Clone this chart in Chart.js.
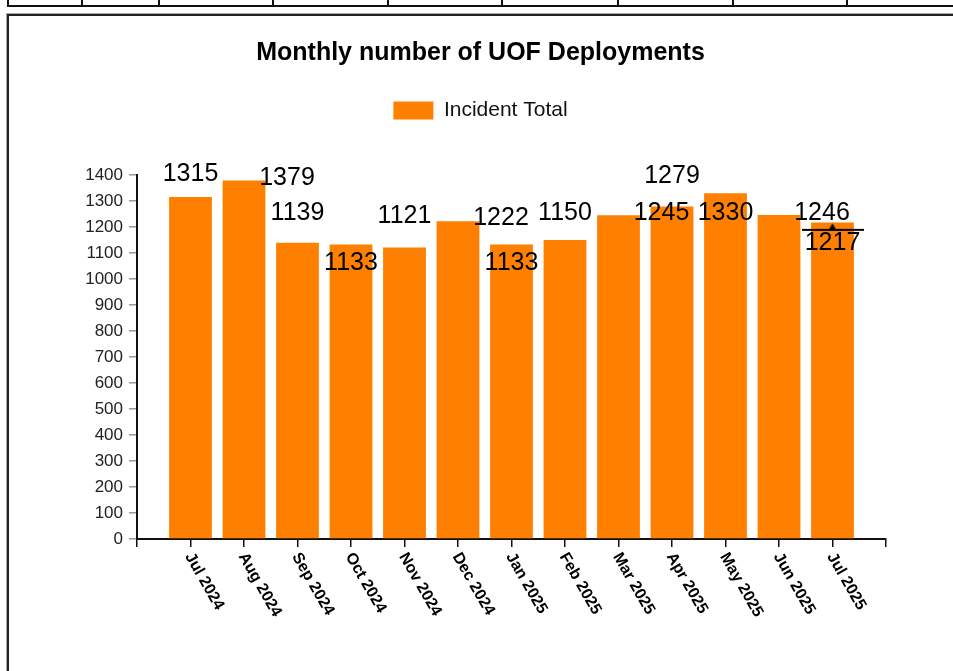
<!DOCTYPE html>
<html>
<head>
<meta charset="utf-8">
<title>Monthly number of UOF Deployments</title>
<script src="https://cdn.jsdelivr.net/npm/chart.js@4.4.1/dist/chart.umd.min.js"></script>
<style>
    html, body { margin: 0; padding: 0; background: #fff; overflow: hidden; }
    body { width: 953px; height: 671px; position: relative; }
    .strip { position: absolute; left: 7px; top: 0; width: 960px; height: 5px; border-left: 2px solid #111; border-bottom: 2px solid #111; }
    .strip span { position: absolute; top: 0; width: 2px; height: 5px; background: #111; }
    .frame { position: absolute; left: 7px; top: 14px; width: 960px; height: 700px; border-left: 2px solid #222; border-top: 2px solid #222; box-shadow: -1px -1px 0 #aaa; }
    #uofChart { position: absolute; left: 0; top: 0; }
</style>
</head>
<body>
<div class="strip" id="strip"></div>
<div class="frame"></div>
<canvas id="uofChart" width="953" height="671"></canvas>
<script>
    const months = ['Jul 2024', 'Aug 2024', 'Sep 2024', 'Oct 2024', 'Nov 2024', 'Dec 2024', 'Jan 2025',
        'Feb 2025', 'Mar 2025', 'Apr 2025', 'May 2025', 'Jun 2025', 'Jul 2025'];
    const incidentTotals = [1315, 1379, 1139, 1133, 1121, 1222, 1133, 1150, 1245, 1279, 1330, 1246, 1217];
    // marker shown on the last month only
    const markerValues = [null, null, null, null, null, null, null, null, null, null, null, null, 1189];
    const yTicks = { min: 0, max: 1400, step: 100 };

    // where each value label sits relative to the top of its bar (style only)
    const labelOffsets = [[0, -23], [43, -2], [0, -30], [0, 19], [0, -31], [43, -3], [0, 19],
        [0, -27], [43, -2], [0, -30], [0, 20], [43, -2], [0, 21]];

    const ORANGE = '#FF8000';
    const FONT = '"Liberation Sans", Arial, sans-serif';

    // little table lines above the chart frame
    const strip = document.getElementById('strip');
    [80, 157, 271, 386, 500, 616, 731, 845].forEach(x => {
        const s = document.createElement('span');
        s.style.left = (x - 8) + 'px';
        strip.appendChild(s);
    });

    // empty category at both ends, the axis runs one step past the first and last bar
    const labels = ['', ...months, ''];
    const barData = [null, ...incidentTotals, null];
    const markerData = [null, ...markerValues, null];

    // horizontal bar with a small triangle on top
    const markerImg = document.createElement('canvas');
    markerImg.width = 62;
    markerImg.height = 14;
    (() => {
        const c = markerImg.getContext('2d');
        c.fillStyle = '#000';
        c.fillRect(0, 6, 62, 2);
        c.beginPath();
        c.moveTo(27.5, 6.5);
        c.lineTo(34.5, 6.5);
        c.lineTo(31, 0.5);
        c.closePath();
        c.fill();
    })();

    const valueLabels = {
        id: 'valueLabels',
        afterDatasetsDraw(chart) {
            const ctx = chart.ctx;
            const meta = chart.getDatasetMeta(0);
            ctx.save();
            ctx.font = '25px ' + FONT;
            ctx.fillStyle = '#000';
            ctx.textAlign = 'center';
            ctx.textBaseline = 'middle';
            incidentTotals.forEach((v, i) => {
                const bar = meta.data[i + 1];
                const [dx, dy] = labelOffsets[i];
                ctx.fillText(String(v), bar.x + dx, bar.y + dy);
            });
            ctx.restore();
        }
    };

    const slantedMonths = {
        id: 'slantedMonths',
        afterDraw(chart) {
            const ctx = chart.ctx;
            const xScale = chart.scales.x;
            ctx.save();
            ctx.font = 'bold 16px ' + FONT;
            ctx.fillStyle = '#000';
            ctx.textAlign = 'left';
            ctx.textBaseline = 'middle';
            months.forEach((m, i) => {
                const x = xScale.getPixelForTick(i + 1);
                ctx.save();
                ctx.translate(x - 2, xScale.top + 15);
                ctx.rotate(60 * Math.PI / 180);
                ctx.fillText(m, 0, 0);
                ctx.restore();
            });
            ctx.restore();
        }
    };

    const legendGap = {
        id: 'legendGap',
        beforeInit(chart) {
            const fit = chart.legend.fit;
            chart.legend.fit = function () {
                fit.bind(chart.legend)();
                this.height += 44;
            };
        }
    };

    new Chart(document.getElementById('uofChart').getContext('2d'), {
        type: 'bar',
        data: {
            labels: labels,
            datasets: [{
                label: 'Incident Total',
                data: barData,
                backgroundColor: ORANGE,
                borderWidth: 0,
                categoryPercentage: 1,
                barPercentage: 0.8,
                order: 2
            }, {
                type: 'line',
                label: 'marker',
                data: markerData,
                showLine: false,
                pointStyle: markerImg,
                pointRadius: 6,
                order: 1
            }]
        },
        options: {
            responsive: false,
            animation: false,
            layout: { padding: { top: 38, left: 75, right: 67, bottom: 124 } },
            plugins: {
                title: {
                    display: true,
                    text: 'Monthly number of UOF Deployments',
                    color: '#000',
                    font: { family: FONT, size: 25, weight: 'bold' },
                    padding: { top: 0, bottom: 22 }
                },
                legend: {
                    display: true,
                    labels: {
                        boxWidth: 40,
                        boxHeight: 18,
                        color: '#111',
                        font: { family: FONT, size: 21 },
                        filter: item => item.datasetIndex === 0
                    }
                },
                tooltip: { enabled: false }
            },
            scales: {
                x: {
                    offset: false,
                    ticks: { display: false },
                    grid: { offset: false, drawOnChartArea: false, drawTicks: true, tickLength: 8, color: '#111', lineWidth: 1.5 },
                    border: { color: '#111', width: 2 }
                },
                y: {
                    min: yTicks.min,
                    max: yTicks.max,
                    ticks: {
                        stepSize: yTicks.step,
                        color: '#222',
                        padding: 6,
                        font: { family: FONT, size: 17 },
                        callback: v => String(v)
                    },
                    grid: { drawOnChartArea: false, drawTicks: true, tickLength: 8, color: '#999', lineWidth: 1.5 },
                    border: { color: '#111', width: 2 },
                    afterFit(scale) { scale.width = 62; }
                }
            }
        },
        plugins: [legendGap, valueLabels, slantedMonths]
    });
</script>
</body>
</html>
